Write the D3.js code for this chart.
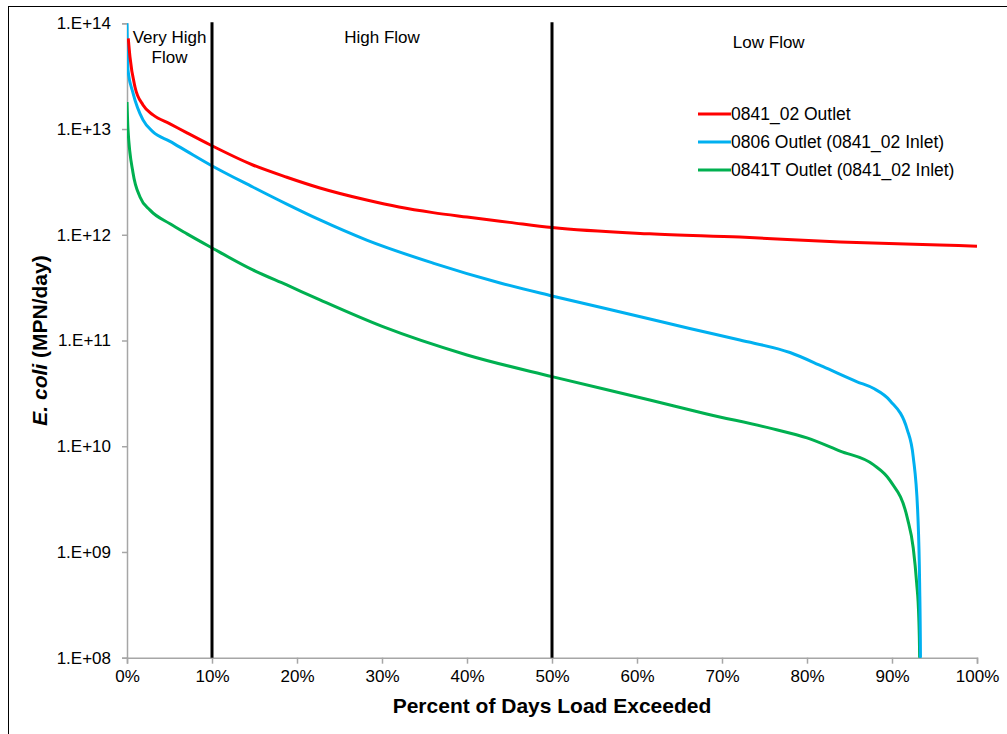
<!DOCTYPE html>
<html>
<head>
<meta charset="utf-8">
<script src="https://cdn.jsdelivr.net/npm/d3@7"></script>
<style>
  html, body { margin: 0; padding: 0; background: #fff; }
  svg { display: block; font-family: "Liberation Sans", Arial, sans-serif; }
</style>
</head>
<body>
<svg id="chart" width="1007" height="734"></svg>
<script>
// Load duration curves: percent of days exceeded vs. E. coli load (MPN/day)
const outletPct = [0.15, 0.35, 0.94, 1.88, 3.06, 5.06, 7.06, 9.76, 14.8, 18.8, 22.7, 28.2, 32, 36, 40, 45, 50, 61.5, 72.1, 83.9, 95.6, 100];
const outletLoad = [7.2e13, 4.8e13, 2.5e13, 1.69e13, 1.36e13, 1.12e13, 9.2e12, 7.1e12, 4.57e12, 3.5e12, 2.77e12, 2.13e12, 1.83e12, 1.62e12, 1.47e12, 1.31e12, 1.17e12, 1.02e12, 9.5e11, 8.55e11, 8.0e11, 7.8e11];

const inlet0806Pct = [0, 0.12, 0.71, 1.88, 3.06, 5.06, 7.06, 9.76, 14.8, 18.8, 22.7, 28.2, 36, 43.9, 50, 60.4, 66.2, 72.1, 78, 81.9, 85.9, 87.8, 89.8, 91.8, 92.5, 93.05, 93.25, 93.35, 93.4];
const inlet0806Load = [1e14, 3.6e13, 2.19e13, 1.22e13, 9.4e12, 7.65e12, 6.15e12, 4.6e12, 2.83e12, 1.95e12, 1.38e12, 8.9e11, 5.4e11, 3.5e11, 2.64e11, 1.68e11, 1.3e11, 1.01e11, 7.7e10, 5.65e10, 4.07e10, 3.53e10, 2.68e10, 1.43e10, 7.9e9, 2.14e9, 5.1e8, 1e8, 1e7];

const inlet0841TPct = [0, 0.12, 0.71, 1.53, 2.71, 5.06, 7.06, 9.76, 14.8, 18.8, 22.7, 30.1, 40, 50, 61.5, 68.2, 76, 80, 83.9, 87.8, 89.8, 91.8, 92.5, 92.9, 93.15, 93.25, 93.3];
const inlet0841TLoad = [1.8e13, 9.8e12, 3.84e12, 2.28e12, 1.71e12, 1.27e12, 1.02e12, 7.7e11, 4.65e11, 3.35e11, 2.42e11, 1.35e11, 7.3e10, 4.55e10, 2.74e10, 2.02e10, 1.46e10, 1.2e10, 9.0e9, 6.7e9, 4.7e9, 2.1e9, 1.09e9, 5.1e8, 2.4e8, 1e8, 1e7];

const seriesNames = ["0841_02 Outlet", "0806 Outlet (0841_02 Inlet)", "0841T Outlet (0841_02 Inlet)"];
const seriesColors = ["#ff0000", "#00b0f0", "#00b050"];

const yTickValues = [1e8, 1e9, 1e10, 1e11, 1e12, 1e13, 1e14];
const xTickValues = [0, 10, 20, 30, 40, 50, 60, 70, 80, 90, 100];

// Flow regime boundaries and their labels (label centre given in percent)
const flowBreaks = [10, 50];
const flowLabelText = [["Very High", "Flow"], ["High Flow"], ["Low Flow"]];
const flowLabelPct = [5, 30, 75.5];

const series = [
  { name: seriesNames[0], color: seriesColors[0], pts: outletPct.map((p, i) => [p, outletLoad[i]]) },
  { name: seriesNames[1], color: seriesColors[1], pts: inlet0806Pct.map((p, i) => [p, inlet0806Load[i]]) },
  { name: seriesNames[2], color: seriesColors[2], pts: inlet0841TPct.map((p, i) => [p, inlet0841TLoad[i]]) }
];

const svg = d3.select("#chart");
const plot = { left: 127, right: 977, top: 23.3, bottom: 657.7 };

const x = d3.scaleLinear().domain([0, 100]).range([plot.left, plot.right]);
const y = d3.scaleLog().domain([1e8, 1e14]).range([plot.bottom, plot.top]);

// Outer frame
svg.append("rect")
  .attr("x", 8.5).attr("y", 6.5).attr("width", 1010).attr("height", 740)
  .attr("fill", "none").attr("stroke", "#000").attr("stroke-width", 1);

svg.append("clipPath").attr("id", "plotClip")
  .append("rect")
  .attr("x", plot.left).attr("y", plot.top - 2)
  .attr("width", plot.right - plot.left + 4).attr("height", plot.bottom - plot.top + 2);

// Axes
const axisColor = "#a6a6a6";
const yAxis = svg.append("g")
  .attr("transform", `translate(${plot.left},0)`)
  .call(d3.axisLeft(y).tickValues(yTickValues).tickSize(5).tickPadding(11)
    .tickFormat(d => "1.E+" + String(Math.round(Math.log10(d))).padStart(2, "0")));
const xAxis = svg.append("g")
  .attr("transform", `translate(0,${plot.bottom})`)
  .call(d3.axisBottom(x).tickValues(xTickValues).tickSize(6).tickPadding(6)
    .tickFormat(d => d + "%"));
[yAxis, xAxis].forEach(g => {
  g.selectAll("path, line").attr("stroke", axisColor).attr("stroke-width", 1.5);
  g.selectAll("text").attr("fill", "#000").style("font-size", "17px")
    .style("font-family", "'Liberation Sans', Arial, sans-serif");
});

// Curves
const line = d3.line()
  .x(d => x(d[0]))
  .y(d => y(d[1]))
  .curve(d3.curveMonotoneX);

const curves = svg.append("g").attr("clip-path", "url(#plotClip)");
series.slice().reverse().forEach(s => {
  curves.append("path")
    .datum(s.pts)
    .attr("fill", "none")
    .attr("stroke", s.color)
    .attr("stroke-width", 3)
    .attr("stroke-linejoin", "round")
    .attr("d", line);
});

// Flow regime dividers
svg.selectAll(".divider").data(flowBreaks).enter().append("line")
  .attr("class", "divider")
  .attr("x1", d => x(d)).attr("x2", d => x(d))
  .attr("y1", plot.top - 1).attr("y2", plot.bottom)
  .attr("stroke", "#000").attr("stroke-width", 3);

// Flow regime labels
flowLabelText.forEach((lines, i) => {
  const t = svg.append("text")
    .attr("text-anchor", "middle")
    .style("font-size", "17px")
    .attr("fill", "#000");
  const baseY = i === 2 ? 48 : 43;
  lines.forEach((ln, j) => {
    t.append("tspan")
      .attr("x", x(flowLabelPct[i]))
      .attr("y", baseY + j * 20)
      .text(ln);
  });
});

// Legend
const legend = svg.append("g");
series.forEach((s, i) => {
  const ly = 114 + i * 28;
  legend.append("line")
    .attr("x1", 698).attr("x2", 731).attr("y1", ly).attr("y2", ly)
    .attr("stroke", s.color).attr("stroke-width", 3);
  legend.append("text")
    .attr("x", 731).attr("y", ly + 6)
    .style("font-size", "17.5px")
    .attr("fill", "#000")
    .text(s.name);
});

// Axis titles
svg.append("text")
  .attr("x", (plot.left + plot.right) / 2).attr("y", 713)
  .attr("text-anchor", "middle")
  .style("font-size", "21px").style("font-weight", "bold")
  .text("Percent of Days Load Exceeded");

const yTitle = svg.append("text")
  .attr("transform", `translate(47,${(plot.top + plot.bottom) / 2}) rotate(-90)`)
  .attr("text-anchor", "middle")
  .style("font-size", "21px").style("font-weight", "bold");
yTitle.append("tspan").style("font-style", "italic").text("E. coli");
yTitle.append("tspan").text(" (MPN/day)");
</script>
</body>
</html>
